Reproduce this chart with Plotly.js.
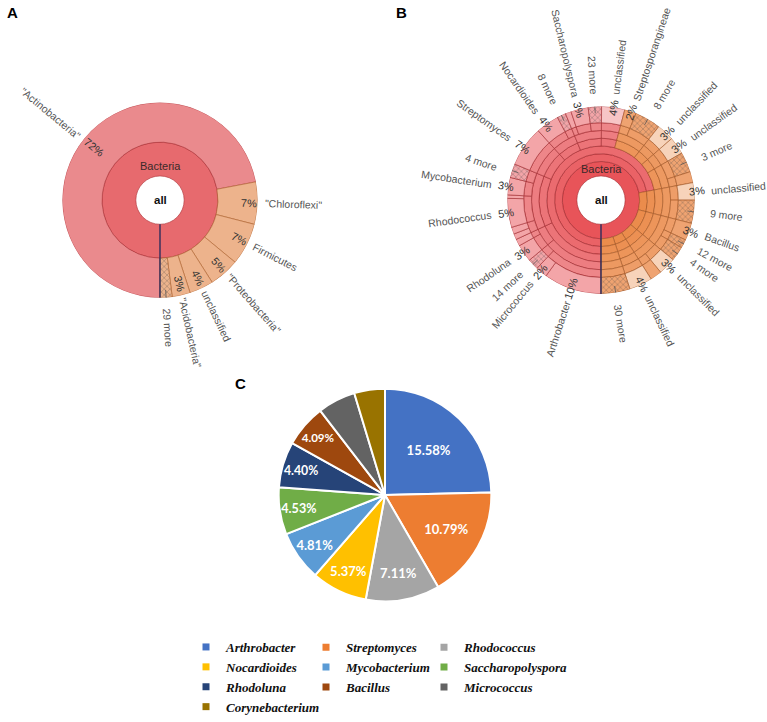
<!DOCTYPE html>
<html><head><meta charset="utf-8">
<script src="https://cdn.plot.ly/plotly-3.0.1.min.js"></script>
<style>html,body{margin:0;padding:0;background:#fff}#chart{width:767px;height:722px}</style>
</head><body><div id="chart"></div>
<script>
// ================= DATA =================
// Panel A - phylum level (share of reads, %), clockwise from 6 o'clock
const phylumNames  = ['"Actinobacteria"', '"Chloroflexi"', 'Firmicutes', '"Proteobacteria"', 'unclassified', '"Acidobacteria"', '29 more'];
const phylumValues = [72, 7, 7, 5, 4, 3, 2];

// Panel B - outer (genus) ring, clockwise from 6 o'clock ('' = unlabelled wedge)
const genusNames  = ['Arthrobacter', 'Micrococcus', '14 more', 'Rhodoluna', '', '', '', 'Rhodococcus', '', 'Mycobacterium',
  '4 more', 'Streptomyces', 'Nocardioides', '8 more', '', 'Saccharopolyspora', '23 more', 'unclassified', 'Streptosporangineae', '8 more',
  'unclassified', 'unclassified', '3 more', '', 'unclassified', '9 more', 'Bacillus', '12 more', '4 more', 'unclassified',
  '', 'unclassified', '30 more'];
const genusValues = [10, 2, 1.9, 3, 1.2, 1.0, 1.2, 5, 0.6, 3,
  2.4, 7, 4, 1.5, 1.0, 3, 2.3, 4, 2, 4.5,
  3, 3, 3.5, 1.9, 3, 4, 3, 1.5, 2.5, 3,
  2, 4, 5];
// Panel B - inner ranks: number of consecutive outer wedges under each node
const bKingdomSpan  = [33];
const bPhylumSpan   = [24, 2, 3, 2, 1, 1];
const bClassSpan    = [24, 2, 3, 2, 1, 1];
const bOrderSpan    = [5, 6, 1, 2, 3, 1, 2, 1, 1, 2, 2, 3, 2, 1, 1];
const bSuborderSpan = [3, 2, 6, 1, 2, 3, 1, 2, 1, 1, 2, 2, 3, 2, 1, 1];
const bFamilySpan   = [2, 1, 1, 1, 2, 2, 1, 1, 1, 1, 1, 1, 1, 1, 1, 1, 1, 1, 1, 1, 1, 1, 1, 1, 1, 1, 1, 1, 1, 1];

// Panel C - top genera (% of reads)
const pieGenera   = ['Arthrobacter', 'Streptomyces', 'Rhodococcus', 'Nocardioides', 'Mycobacterium', 'Saccharopolyspora', 'Rhodoluna', 'Bacillus', 'Micrococcus', 'Corynebacterium'];
const pieValues   = [15.58, 10.79, 7.11, 5.37, 4.81, 4.53, 4.40, 4.09, 3.65, 2.95];
const pieLabelled = [1, 1, 1, 1, 1, 1, 1, 1, 0, 0];

// ================= STYLE / LAYOUT =================
const W = 767, H = 722;
const FONT = '"Liberation Sans", Arial, Helvetica, sans-serif';
const SERIF = '"Liberation Serif", "Times New Roman", serif';
const pieColors = ['#4472C4', '#ED7D31', '#A5A5A5', '#FFC000', '#5B9BD5', '#70AD47', '#264478', '#9E480E', '#636363', '#997300'];
const kA = {cx: 160, cy: 207, R: 101};
const ringsA = [[25, 60], [60, 101]];
const kB = {cx: 601, cy: 207, R: 97};
const ringsB = [[25, 40], [40, 48], [48, 56], [56, 64], [64, 72], [72, 80], [80, 97]];
const kC = {cx: 385, cy: 512, R: 110};

const hsl = (h, s, l) => `hsl(${h},${s}%,${l}%)`;
const ctx = document.createElement('canvas').getContext('2d');
function textW(s, size, bold) { ctx.font = (bold ? 'bold ' : '') + size + 'px "Liberation Sans", Arial'; return ctx.measureText(s).width; }

function segments(values) {
  const tot = values.reduce((a, b) => a + b, 0); let c = 0;
  return values.map(v => { const s = c; c += v; return {start: s / tot * 360, end: c / tot * 360, v: v / tot * 100}; });
}
function sumSpans(values, spans) {
  const out = []; let i = 0;
  spans.forEach(n => { let s = 0; for (let j = 0; j < n; j++) { s += values[i]; i++; } out.push(s); });
  return out;
}
function dirOf(phi) { const a = phi * Math.PI / 180; return [-Math.sin(a), Math.cos(a)]; }
function readAngle(phi) {
  const [dx, dy] = dirOf(phi);
  let ang = Math.atan2(dy, dx) * 180 / Math.PI;
  if (dx < -1e-9) ang += 180;
  if (ang > 180) ang -= 360;
  return ang;
}
function radialAnn(k, phi, rc, text, size, color) {
  const [dx, dy] = dirOf(phi);
  return {xref: 'paper', yref: 'paper', x: (k.cx + rc * dx) / W, y: 1 - (k.cy + rc * dy) / H,
    xanchor: 'center', yanchor: 'middle', text, textangle: readAngle(phi), showarrow: false,
    font: {family: FONT, size, color}};
}
function polarLayout(k) {
  return {domain: {x: [(k.cx - k.R) / W, (k.cx + k.R) / W], y: [1 - (k.cy + k.R) / H, 1 - (k.cy - k.R) / H]},
    bgcolor: 'rgba(0,0,0,0)', barmode: 'overlay', bargap: 0,
    radialaxis: {visible: false, range: [0, k.R]},
    angularaxis: {visible: false, rotation: 270, direction: 'clockwise'}};
}
function ringTrace(subplot, values, names, r0, r1, fillFn, lineFn, level) {
  const segs = segments(values);
  const mid = segs.map(s => (s.start + s.end) / 2);
  const fills = segs.map((s, i) => fillFn(level, mid[i], names ? names[i] : ''));
  return {type: 'barpolar', subplot, theta: mid, width: segs.map(s => s.end - s.start),
    base: segs.map(() => r0), r: segs.map(() => r1 - r0),
    marker: {color: fills,
      line: {color: segs.map((s, i) => lineFn(level, mid[i])), width: 0.7},
      pattern: {shape: segs.map((s, i) => names && /more$/.test(names[i]) ? 'x' : ''),
        fillmode: 'overlay', fgcolor: 'rgba(120,60,40,0.35)', size: 4, solidity: 0.25}},
    hoverinfo: 'skip', showlegend: false};
}
const fillA = (lv, phi) => lv === 0 ? hsl(358, 72, 66) : (phi > 190 ? hsl(24, 73, 74) : hsl(358, 70, 73));
const lineA = (lv, phi) => (lv > 0 && phi > 190) ? 'rgba(175,100,50,0.9)' : 'rgba(175,55,60,0.9)';
const pinkL = [62, 65, 67, 69, 71, 73, 80], orangeL = [62, 61, 62.5, 64, 65.5, 67, 69];
function fillB(lv, phi, name) {
  const uncl = lv === 6 && name === 'unclassified';
  if (lv > 0 && phi > 190) return hsl(24, 80, uncl ? 85 : orangeL[lv]);
  return hsl(358, 76, uncl ? 87 : pinkL[lv]);
}
const lineB = (lv, phi) => (lv > 0 && phi > 190) ? 'rgba(160,85,35,0.85)' : 'rgba(160,40,45,0.85)';

function kronaLabels(k, names, values, o) {
  const segs = segments(values), anns = [], lr = [], lt = [];
  segs.forEach((s, i) => {
    const name = names[i]; if (!name) return;
    const phi = (s.start + s.end) / 2;
    const more = /more$/.test(name);
    const w = textW(name, o.size);
    anns.push(radialAnn(k, phi, k.R + (more ? o.moreGap : o.gap) + w / 2, name, o.size, '#555'));
    if (more) { lr.push(k.R - o.leadIn, k.R + o.leadOut, null); lt.push(phi, phi, null); }
    else {
      const pct = Math.round(s.v) + '%';
      anns.push(radialAnn(k, phi, o.pctR(k.R, textW(pct, o.pctSize)), pct, o.pctSize, '#333'));
    }
  });
  return {anns, lr, lt};
}

// ================= TRACES =================
const traces = [];
// Panel A rings
traces.push(ringTrace('polar', [100], null, ringsA[0][0], ringsA[0][1], fillA, lineA, 0));
traces.push(ringTrace('polar', phylumValues, phylumNames, ringsA[1][0], ringsA[1][1], fillA, lineA, 1));
// Panel B rings
const bLevels = [bKingdomSpan, bPhylumSpan, bClassSpan, bOrderSpan, bSuborderSpan, bFamilySpan];
bLevels.forEach((sp, lv) => traces.push(ringTrace('polar2', sumSpans(genusValues, sp), null, ringsB[lv][0], ringsB[lv][1], fillB, lineB, lv)));
traces.push(ringTrace('polar2', genusValues, genusNames, ringsB[6][0], ringsB[6][1], fillB, lineB, 6));

const labA = kronaLabels(kA, phylumNames, phylumValues, {size: 10.5, pctSize: 11, gap: 4, moreGap: 12, leadIn: 8, leadOut: 9, pctR: (R, pw) => R - 4 - pw / 2});
const labB = kronaLabels(kB, genusNames, genusValues, {size: 10.5, pctSize: 11, gap: 14, moreGap: 13, leadIn: 7, leadOut: 10, pctR: (R, pw) => R - 1});

[['polar', labA, kA], ['polar2', labB, kB]].forEach(([sp, lab, k]) => {
  traces.push({type: 'scatterpolar', subplot: sp, mode: 'lines', r: lab.lr, theta: lab.lt, cliponaxis: false,
    line: {color: '#555', width: 0.8}, hoverinfo: 'skip', showlegend: false});
  traces.push({type: 'scatterpolar', subplot: sp, mode: 'lines', r: [25, k.R], theta: [0, 0], cliponaxis: false,
    line: {color: '#2d2d5c', width: 1.4}, hoverinfo: 'skip', showlegend: false});
});

// Panel C pie
traces.push({type: 'pie', labels: pieGenera, values: pieValues, sort: false, direction: 'clockwise', rotation: 0,
  domain: {x: [(kC.cx - kC.R) / W, (kC.cx + kC.R) / W], y: [1 - (kC.cy + kC.R) / H, 1 - (kC.cy - kC.R) / H]},
  marker: {colors: pieColors, line: {color: '#ffffff', width: 2}},
  text: pieValues.map((v, i) => pieLabelled[i] ? v.toFixed(2) + '%' : ''),
  textinfo: 'text', textposition: 'inside', insidetextorientation: 'horizontal',
  textfont: {family: 'Lato, "Open Sans", sans-serif', size: 13, color: '#ffffff', weight: 'bold'},
  showlegend: false, hoverinfo: 'skip'});
// legend entries (3 columns, as in the figure)
const legendIds = ['legend', 'legend2', 'legend3'];
pieGenera.forEach((g, i) => traces.push({type: 'scatter', x: [null], y: [null], mode: 'markers', name: g,
  legend: legendIds[i % 3], marker: {symbol: 'square', size: 7, color: pieColors[i]}, hoverinfo: 'skip', showlegend: true}));

// ================= ANNOTATIONS =================
const annotations = [...labA.anns, ...labB.anns];
[kA, kB].forEach((k, j) => {
  annotations.push({xref: 'paper', yref: 'paper', x: k.cx / W, y: 1 - k.cy / H, text: '<b>all</b>', showarrow: false,
    font: {family: FONT, size: 11.5, color: '#111'}, xanchor: 'center', yanchor: 'middle'});
  annotations.push({xref: 'paper', yref: 'paper', x: k.cx / W, y: 1 - (k.cy - (j === 0 ? 35 : 32)) / H, text: 'Bacteria', showarrow: false,
    font: {family: FONT, size: 11, color: '#3a2a2a'}, xanchor: 'center', yanchor: 'middle'});
});
[['A', 12, 13], ['B', 402, 13], ['C', 240, 397]].forEach(([t, x, y]) => annotations.push({xref: 'paper', yref: 'paper',
  x: x / W, y: 1 - y / H, text: '<b>' + t + '</b>', showarrow: false, xanchor: 'center', yanchor: 'middle',
  font: {family: FONT, size: 15, color: '#000'}}));

const legendBase = {orientation: 'v', xanchor: 'left', yanchor: 'top', y: 1 - 654 / H, bgcolor: 'rgba(0,0,0,0)',
  borderwidth: 0, tracegroupgap: 0, itemwidth: 30,
  font: {family: SERIF, size: 13, color: '#111', weight: 'bold', style: 'italic'}};

const layout = {
  width: W, height: H, margin: {l: 0, r: 0, t: 0, b: 0}, paper_bgcolor: '#fff', plot_bgcolor: 'rgba(0,0,0,0)',
  font: {family: FONT}, hovermode: false, showlegend: true,
  polar: polarLayout(kA), polar2: polarLayout(kB),
  xaxis: {visible: false, domain: [0, 0.01], range: [0, 1]}, yaxis: {visible: false, domain: [0, 0.01], range: [0, 1]},
  legend:  Object.assign({}, legendBase, {x: 186 / W}),
  legend2: Object.assign({}, legendBase, {x: 306 / W}),
  legend3: Object.assign({}, legendBase, {x: 424 / W}),
  annotations
};
Plotly.newPlot('chart', traces, layout, {displayModeBar: false, staticPlot: true});
</script></body></html>
